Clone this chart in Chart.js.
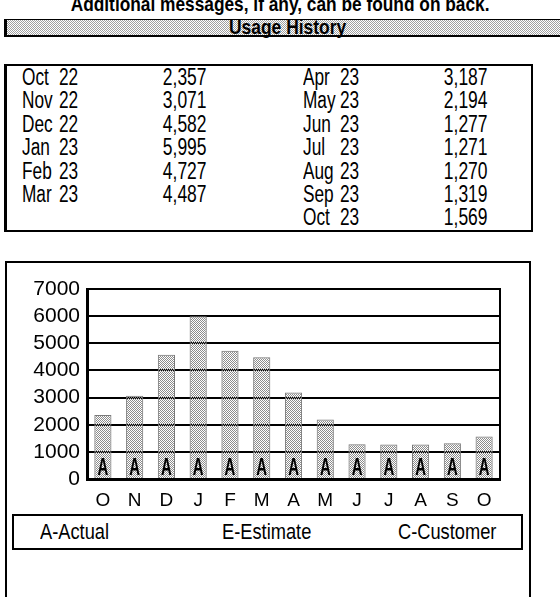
<!DOCTYPE html>
<html>
<head>
<meta charset="utf-8">
<script src="https://cdn.jsdelivr.net/npm/chart.js@4.4.0/dist/chart.umd.min.js"></script>
<style>
  body { margin: 0; width: 560px; height: 597px; overflow: hidden; background: #fff; position: relative;
         font-family: "Liberation Sans", Arial, sans-serif; color: #000; }
  .abs { position: absolute; white-space: nowrap; }
  /* the original uses a condensed face, squeeze Liberation Sans instead */
  .narrow { display: inline-block; transform: scaleX(0.83); transform-origin: left center; }
  .narrowR { display: inline-block; transform: scaleX(0.76); transform-origin: right center; }
  .cell.narrow { transform: scaleX(0.75); }
  #title { left: 0; width: 560px; top: -6px; text-align: center; font-weight: bold; font-size: 20px; line-height: 20px; }
  #title span { transform: scaleX(0.865); transform-origin: center center; display: inline-block; }
  #header { left: 4px; top: 19px; width: 560px; height: 15px; border-top: 1px solid #000; border-left: 3px solid #000; border-bottom: 2px solid #000;
            background: repeating-conic-gradient(#a0a0a0 0 25%, #fff 0 50%) 0 0/2px 2px; }
  #header span { position: absolute; left: 222px; top: -3px; font-weight: bold; font-size: 21px; line-height: 20px; }
  #table { left: 4px; top: 64px; width: 524px; height: 164px; border: 2px solid #000; border-left-width: 3px; }
  .cell { position: absolute; font-size: 23px; line-height: 23px; }
  #chartBox { left: 5px; top: 261px; width: 522px; height: 400px; border: 2px solid #000; }
  #legendBox { left: 12px; top: 514px; width: 507px; height: 32px; border: 2px solid #000; }
  .leg { position: absolute; top: 5px; font-size: 22px; line-height: 22px; }
  canvas { position: absolute; left: 0; top: 0; }
</style>
</head>
<body>
<div id="title" class="abs"><span>Additional messages, if any, can be found on back.</span></div>
<div id="header" class="abs"><span class="narrow">Usage History</span></div>
<div id="table" class="abs"></div>
<div id="chartBox" class="abs"></div>
<div id="legendBox" class="abs">
  <span class="leg narrow" style="left:26px">A-Actual</span>
  <span class="leg narrow" style="left:208px">E-Estimate</span>
  <span class="leg narrow" style="left:384px">C-Customer</span>
</div>
<canvas id="usageChart" width="560" height="597"></canvas>
<script>
// usage history, Oct 22 .. Oct 23
const months = ['Oct', 'Nov', 'Dec', 'Jan', 'Feb', 'Mar', 'Apr', 'May', 'Jun', 'Jul', 'Aug', 'Sep', 'Oct'];
const years = ['22', '22', '22', '23', '23', '23', '23', '23', '23', '23', '23', '23', '23'];
const usage = [2357, 3071, 4582, 5995, 4727, 4487, 3187, 2194, 1277, 1271, 1270, 1319, 1569];
const readType = ['A', 'A', 'A', 'A', 'A', 'A', 'A', 'A', 'A', 'A', 'A', 'A', 'A'];
const axisLetters = ['O', 'N', 'D', 'J', 'F', 'M', 'A', 'M', 'J', 'J', 'A', 'S', 'O'];
const yTicks = [0, 1000, 2000, 3000, 4000, 5000, 6000, 7000];

// fill the table: first 6 months on the left, the rest on the right
const table = document.getElementById('table');
for (let i = 0; i < months.length; i++) {
    const col = i < 6 ? 0 : 1;
    const row = col === 0 ? i : i - 6;
    const top = row * 23.4;
    const base = col === 0 ? 15 : 296;
    const cells = [
        { text: months[i], cls: 'narrow', style: 'left:' + base + 'px' },
        { text: years[i], cls: 'narrow', style: 'left:' + (base + 37) + 'px' },
        { text: usage[i].toLocaleString('en-US'), cls: 'narrowR', style: 'right:' + (524 - (base + 185)) + 'px' }
    ];
    cells.forEach(function (c) {
        const el = document.createElement('span');
        el.className = 'cell ' + c.cls;
        el.textContent = c.text;
        el.setAttribute('style', c.style + ';top:' + top + 'px');
        table.appendChild(el);
    });
}

// dithered grey fill for the bars, transparent holes let grid show through
const pat = document.createElement('canvas');
pat.width = 2;
pat.height = 2;
const pctx = pat.getContext('2d');
pctx.fillStyle = '#8c8c8c';
pctx.fillRect(0, 0, 1, 1);
pctx.fillRect(1, 1, 1, 1);
const ctx0 = document.getElementById('usageChart').getContext('2d');
const barFill = ctx0.createPattern(pat, 'repeat');

// letters inside the bars and the right edge of the plot
const extras = {
    id: 'extras',
    afterDatasetsDraw: function (chart) {
        const ctx = chart.ctx;
        const zero = chart.scales.y.getPixelForValue(0);
        ctx.save();
        ctx.fillStyle = '#000';
        ctx.font = 'bold 24px "Liberation Sans", sans-serif';
        ctx.textAlign = 'center';
        ctx.textBaseline = 'alphabetic';
        chart.getDatasetMeta(0).data.forEach(function (bar, i) {
            ctx.save();
            ctx.translate(bar.x, zero - 4);
            ctx.scale(0.62, 1);
            ctx.fillText(readType[i], 0, 0);
            ctx.restore();
        });
        const a = chart.chartArea;
        ctx.strokeStyle = '#000';
        ctx.lineWidth = 2;
        ctx.beginPath();
        ctx.moveTo(a.right, a.top - 1);
        ctx.lineTo(a.right, a.bottom);
        ctx.stroke();
        ctx.restore();
    }
};

const config = {
    type: 'bar',
    data: {
        labels: axisLetters,
        datasets: [{
            data: usage,
            backgroundColor: barFill,
            borderColor: '#7a7a7a',
            borderWidth: 1,
            categoryPercentage: 1,
            barPercentage: 0.54
        }]
    },
    options: {
        responsive: false,
        animation: false,
        events: [],
        layout: { padding: { left: 0, top: 289, right: 60, bottom: 88 } },
        plugins: { legend: { display: false }, tooltip: { enabled: false } },
        scales: {
            x: {
                grid: { display: false, drawTicks: false },
                border: { display: true, color: '#000', width: 3 },
                ticks: { color: '#000', padding: 10, autoSkip: false, maxRotation: 0, font: { family: 'Liberation Sans', size: 19 } },
                afterFit: function (axis) { axis.height = 30; }
            },
            y: {
                min: 0,
                max: 7000,
                afterBuildTicks: function (axis) { axis.ticks = yTicks.map(function (v) { return { value: v }; }); },
                grid: { color: '#000', lineWidth: 2, drawTicks: false },
                border: { display: true, color: '#000', width: 3 },
                ticks: {
                    color: '#000',
                    padding: 7,
                    autoSkip: false,
                    font: { family: 'Liberation Sans', size: 21 },
                    callback: function (v) { return String(v); }
                },
                afterFit: function (axis) { axis.width = 87; }
            }
        }
    },
    plugins: [extras]
};

const usageChart = new Chart(document.getElementById('usageChart'), config);
</script>
</body>
</html>
